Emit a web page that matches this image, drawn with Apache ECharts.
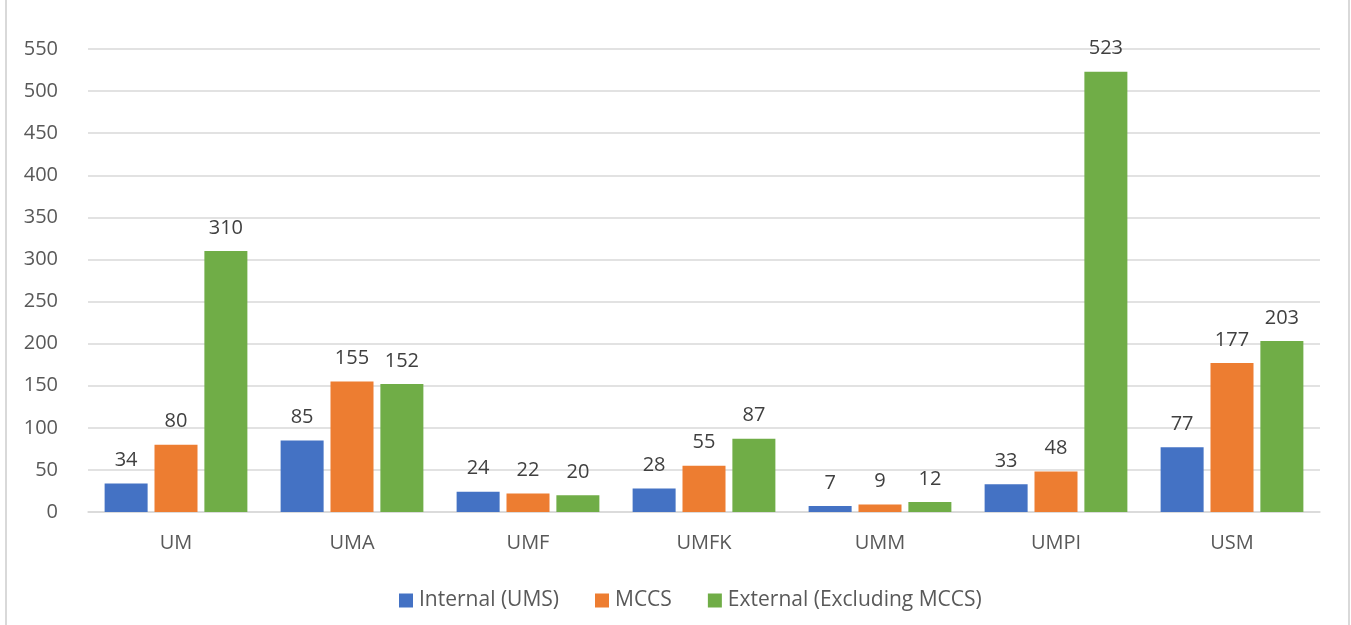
<!DOCTYPE html>
<html><head><meta charset="utf-8">
<style>html,body{margin:0;padding:0;background:#fff}#c{width:1351px;height:625px}</style>
<script src="https://cdn.jsdelivr.net/npm/echarts@6/dist/echarts.min.js"></script>
</head><body><div id="c"></div>
<script>
const categories = ['UM','UMA','UMF','UMFK','UMM','UMPI','USM'];
const internalUMS = [34,85,24,28,7,33,77];
const mccs = [80,155,22,55,9,48,177];
const external = [310,152,20,87,12,523,203];
const seriesNames = ['Internal (UMS)','MCCS','External (Excluding MCCS)'];
const colors = ['#4472C4','#ED7D31','#70AD47'];
const font = '"Open Sans", "Liberation Sans", sans-serif';
const chart = echarts.init(document.getElementById('c'));
const mk = (name, data, color) => ({
  name, type:'bar', data, barWidth:43, barGap:'16%',
  itemStyle:{color},
  label:{show:true, position:'top', distance:13, color:'#404040', fontSize:20, fontFamily:font}
});
chart.setOption({
  animation:false,
  color: colors,
  grid:{left:88, right:31, top:49, bottom:113},
  graphic:[
    {type:'line', shape:{x1:6,y1:0,x2:6,y2:625}, style:{stroke:'#d9d9d9', lineWidth:2}},
    {type:'line', shape:{x1:1349,y1:0,x2:1349,y2:625}, style:{stroke:'#d9d9d9', lineWidth:2}}
  ],
  legend:{bottom:9, left:394, itemWidth:14, itemHeight:14, itemGap:36, icon:'rect',
    textStyle:{color:'#595959', fontSize:21, fontFamily:font, padding:[0,0,0,1]}, data:seriesNames},
  xAxis:{type:'category', data:categories,
    axisLine:{lineStyle:{color:'#d9d9d9', width:1.5}}, axisTick:{show:false},
    axisLabel:{color:'#595959', fontSize:20, fontFamily:font, margin:21}},
  yAxis:{type:'value', min:0, max:550, interval:50,
    axisLine:{show:false}, axisTick:{show:false},
    splitLine:{lineStyle:{color:'#d9d9d9', width:1.5}},
    axisLabel:{color:'#595959', fontSize:20, fontFamily:font, margin:30}},
  series:[mk(seriesNames[0], internalUMS, colors[0]), mk(seriesNames[1], mccs, colors[1]), mk(seriesNames[2], external, colors[2])]
});
</script></body></html>
